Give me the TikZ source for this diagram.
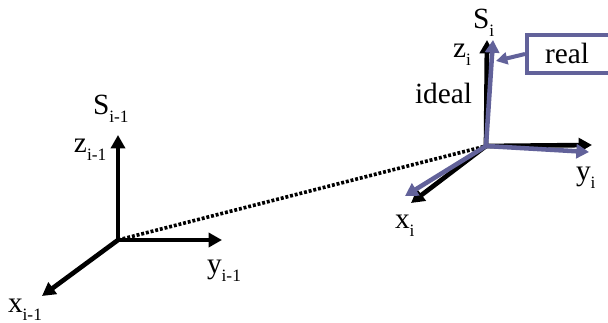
\documentclass[tikz,border=0pt]{standalone}
\usepackage{fontspec}
\setmainfont{Liberation Serif}
\usetikzlibrary{arrows.meta}
\definecolor{realc}{HTML}{62629A}
\newcommand{\lbltext}[2]{{\fontsize{22pt}{24pt}\selectfont #1}\raisebox{-6pt}{\fontsize{13pt}{14pt}\selectfont #2}}
\tikzset{
  x=0.75pt,y=-0.75pt,
  axis/.style={line width=3.5pt,-{Triangle[length=10pt,width=10.5pt]}},
  realaxis/.style={color=realc,line width=3.4pt,-{Triangle[length=9.5pt,width=10.5pt]}},
  pointer/.style={color=realc,line width=3pt,-{Triangle[length=8.5pt,width=9pt]}},
  linkline/.style={line width=2.7pt,dash pattern=on 2.2pt off 1.4pt},
  lbl/.style={anchor=base west,inner sep=0pt,outer sep=0pt},
  realbox/.style={draw=realc,line width=3pt,fill=white,inner sep=0pt,anchor=north west},
}
\begin{document}
\begin{tikzpicture}
\useasboundingbox (0,0) rectangle (608,322);
\coordinate (o1) at (118,240);
\coordinate (z1) at (118,135);
\coordinate (y1) at (222,240);
\coordinate (x1) at (42,296);
\coordinate (o2) at (486,146);
\coordinate (z2) at (487,40);
\coordinate (y2) at (592,145);
\coordinate (x2) at (411,203);
\coordinate (rz) at (493,40);
\coordinate (ry) at (589,152);
\coordinate (rx) at (405,196);
\draw[linkline] (o1) -- (o2);
\draw[axis] (o1) -- (z1);
\draw[axis] (o1) -- (y1);
\draw[axis] (o1) -- (x1);
\draw[axis] (o2) -- (z2);
\draw[axis] (o2) -- (y2);
\draw[axis] (o2) -- (x2);
\draw[realaxis] (o2) -- (rz);
\draw[realaxis] (o2) -- (ry);
\draw[realaxis] (o2) -- (rx);
\node[realbox,minimum width=63.5pt,minimum height=28.5pt] (rbox) at (525,33) {};
\coordinate (rtip) at (496,61);
\draw[pointer] (rbox.west) -- (rtip);
\node[lbl] (treal) at (545,63) {\fontsize{22pt}{24pt}\selectfont real};
\node[lbl] (tideal) at (415,103) {\fontsize{22pt}{24pt}\selectfont ideal};
\node[lbl] (s1) at (93,114) {\lbltext{S}{i-1}};
\node[lbl] (lz1) at (74,152) {\lbltext{z}{i-1}};
\node[lbl] (ly1) at (207,273) {\lbltext{y}{i-1}};
\node[lbl] (lx1) at (8,312) {\lbltext{x}{i-1}};
\node[lbl] (s2) at (473,28) {\lbltext{S}{i}};
\node[lbl] (lz2) at (453,57) {\lbltext{z}{i}};
\node[lbl] (ly2) at (576,180) {\lbltext{y}{i}};
\node[lbl] (lx2) at (395,228) {\lbltext{x}{i}};
\end{tikzpicture}
\end{document}
